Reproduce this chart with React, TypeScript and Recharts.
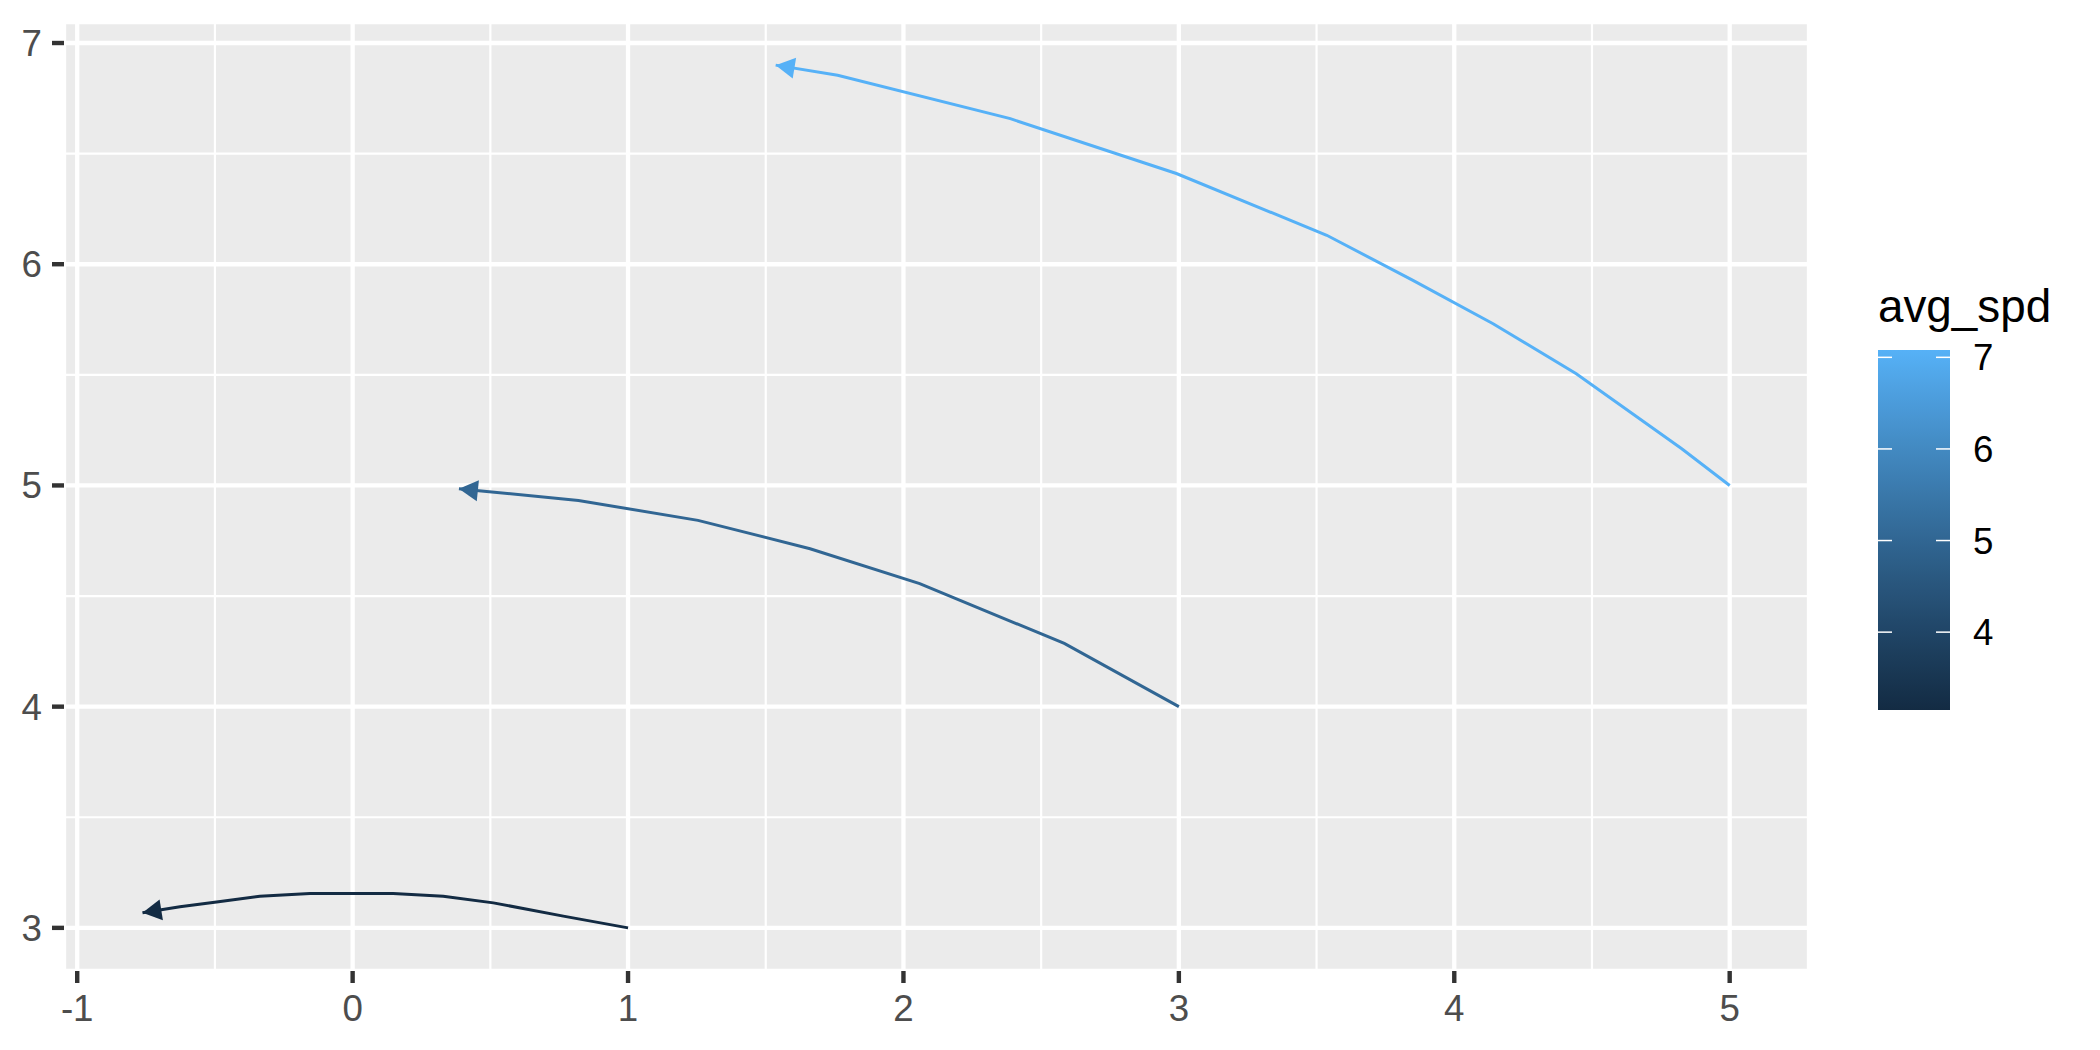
import React from 'react';
import { LineChart, Line, XAxis, YAxis, CartesianGrid } from 'recharts';

// avg_spd of each curve (colour scale input)
const speeds = [3.15, 5.0, 7.08];

// curve paths, start -> arrow tip
const slowX = [1.0, 0.765, 0.511, 0.329, 0.147, -0.155, -0.337, -0.494, -0.627, -0.763];
const slowY = [3.0, 3.053, 3.113, 3.143, 3.155, 3.155, 3.143, 3.117, 3.095, 3.068];
const midX = [3.0, 2.584, 2.059, 1.661, 1.254, 0.82, 0.449, 0.386];
const midY = [4.0, 4.286, 4.556, 4.714, 4.842, 4.932, 4.977, 4.985];
const fastX = [5.0, 4.826, 4.443, 4.141, 3.85, 3.537, 2.991, 2.388, 1.761, 1.536];
const fastY = [5.0, 5.166, 5.505, 5.731, 5.927, 6.131, 6.41, 6.658, 6.854, 6.9];

const xTicks = [-1, 0, 1, 2, 3, 4, 5];
const yTicks = [3, 4, 5, 6, 7];
const xMinor = [-0.5, 0.5, 1.5, 2.5, 3.5, 4.5];
const yMinor = [3.5, 4.5, 5.5, 6.5];
const legendTicks = [4, 5, 6, 7];

const LOW = '#132B43';
const HIGH = '#56B1F7';

// ggplot-style gradient, interpolated in Lab space
const toLin = (c: number) => {
  const v = c / 255;
  return v <= 0.04045 ? v / 12.92 : Math.pow((v + 0.055) / 1.055, 2.4);
};
const fromLin = (c: number) => {
  const v = c <= 0.0031308 ? 12.92 * c : 1.055 * Math.pow(c, 1 / 2.4) - 0.055;
  return Math.round(Math.min(1, Math.max(0, v)) * 255);
};
const hexToLab = (hex: string) => {
  const r = toLin(parseInt(hex.slice(1, 3), 16));
  const g = toLin(parseInt(hex.slice(3, 5), 16));
  const b = toLin(parseInt(hex.slice(5, 7), 16));
  const x = (0.4124 * r + 0.3576 * g + 0.1805 * b) / 0.95047;
  const y = 0.2126 * r + 0.7152 * g + 0.0722 * b;
  const z = (0.0193 * r + 0.1192 * g + 0.9505 * b) / 1.08883;
  const f = (t: number) => (t > 0.008856 ? Math.cbrt(t) : 7.787 * t + 16 / 116);
  return [116 * f(y) - 16, 500 * (f(x) - f(y)), 200 * (f(y) - f(z))];
};
const labToHex = ([L, a, bb]: number[]) => {
  const fy = (L + 16) / 116;
  const fx = fy + a / 500;
  const fz = fy - bb / 200;
  const inv = (t: number) => (t * t * t > 0.008856 ? t * t * t : (t - 16 / 116) / 7.787);
  const x = inv(fx) * 0.95047;
  const y = inv(fy);
  const z = inv(fz) * 1.08883;
  const r = 3.2406 * x - 1.5372 * y - 0.4986 * z;
  const g = -0.9689 * x + 1.8758 * y + 0.0415 * z;
  const b = 0.0557 * x - 0.204 * y + 1.057 * z;
  return '#' + [r, g, b].map((c) => fromLin(c).toString(16).padStart(2, '0')).join('');
};
const lowLab = hexToLab(LOW);
const highLab = hexToLab(HIGH);
const mix = (t: number) => labToHex(lowLab.map((v, i) => v + (highLab[i] - v) * t));

const spdMin = Math.min(...speeds);
const spdMax = Math.max(...speeds);
const spdColor = (s: number) => mix((s - spdMin) / (spdMax - spdMin));

const zip = (xs: number[], ys: number[]) => xs.map((x, i) => ({ x, y: ys[i] }));
const curves = [zip(slowX, slowY), zip(midX, midY), zip(fastX, fastY)];

const FONT = '"Liberation Sans", Arial, sans-serif';

// colourbar geometry
const BAR_X = 1878;
const BAR_W = 72;
const BAR_TOP = 350;
const BAR_H = 360;
const barY = (v: number) => BAR_TOP + BAR_H - ((v - spdMin) / (spdMax - spdMin)) * BAR_H;

const Legend = () => (
  <svg
    width={2100}
    height={1050}
    style={{ position: 'absolute', left: 0, top: 0, pointerEvents: 'none' }}
  >
    <defs>
      <linearGradient id="spd-grad" x1="0" y1="1" x2="0" y2="0">
        {Array.from({ length: 21 }, (_, i) => (
          <stop key={i} offset={i / 20} stopColor={mix(i / 20)} />
        ))}
      </linearGradient>
    </defs>
    <text x={1878} y={322} fontSize={45.8} fontFamily={FONT} fill="#000">
      avg_spd
    </text>
    <rect x={BAR_X} y={BAR_TOP} width={BAR_W} height={BAR_H} fill="url(#spd-grad)" />
    {legendTicks.map((v) => (
      <g key={v}>
        <line x1={BAR_X} x2={BAR_X + 14} y1={barY(v)} y2={barY(v)} stroke="#fff" strokeWidth={1.5} />
        <line
          x1={BAR_X + BAR_W - 14}
          x2={BAR_X + BAR_W}
          y1={barY(v)}
          y2={barY(v)}
          stroke="#fff"
          strokeWidth={1.5}
        />
        <text x={1973} y={barY(v) + 13} fontSize={36.7} fontFamily={FONT} fill="#000">
          {v}
        </text>
      </g>
    ))}
  </svg>
);

export default function App() {
  return (
    <div
      style={{
        position: 'absolute',
        left: 0,
        top: 0,
        width: 2100,
        height: 1050,
        background: '#fff',
        fontFamily: FONT,
      }}
    >
      <LineChart width={2100} height={1050} margin={{ top: 22, right: 291, bottom: 0, left: 0 }}>
        <defs>
          {speeds.map((s, i) => (
            <marker
              key={i}
              id={`arrow-${i}`}
              viewBox="-20 -12 20 24"
              refX={0}
              refY={0}
              markerWidth={20}
              markerHeight={24}
              markerUnits="userSpaceOnUse"
              orient="auto"
            >
              <path d="M0,0 L-19,-10.5 L-19,10.5 Z" fill={spdColor(s)} />
            </marker>
          ))}
        </defs>
        <CartesianGrid
          fill="#EBEBEB"
          stroke="#fff"
          strokeWidth={2.2}
          horizontalValues={yMinor}
          verticalValues={xMinor}
        />
        <CartesianGrid fill="none" stroke="#fff" strokeWidth={4.3} />
        <XAxis
          type="number"
          dataKey="x"
          domain={[-1.048, 5.288]}
          ticks={xTicks}
          allowDataOverflow
          height={79}
          axisLine={false}
          tickSize={12}
          tickMargin={12}
          tickLine={{ stroke: '#333333', strokeWidth: 4.4 }}
          tick={{ fill: '#4D4D4D', fontSize: 36.7, fontFamily: FONT }}
        />
        <YAxis
          type="number"
          dataKey="y"
          domain={[2.805, 7.095]}
          ticks={yTicks}
          allowDataOverflow
          width={64}
          axisLine={false}
          tickSize={12}
          tickMargin={10}
          tickLine={{ stroke: '#333333', strokeWidth: 4.4 }}
          tick={{ fill: '#4D4D4D', fontSize: 36.7, fontFamily: FONT }}
        />
        {curves.map((pts, i) => (
          <Line
            key={i}
            data={pts}
            dataKey="y"
            type="linear"
            stroke={spdColor(speeds[i])}
            strokeWidth={3}
            dot={false}
            activeDot={false}
            markerEnd={`url(#arrow-${i})`}
            isAnimationActive={false}
          />
        ))}
      </LineChart>
      <Legend />
    </div>
  );
}
